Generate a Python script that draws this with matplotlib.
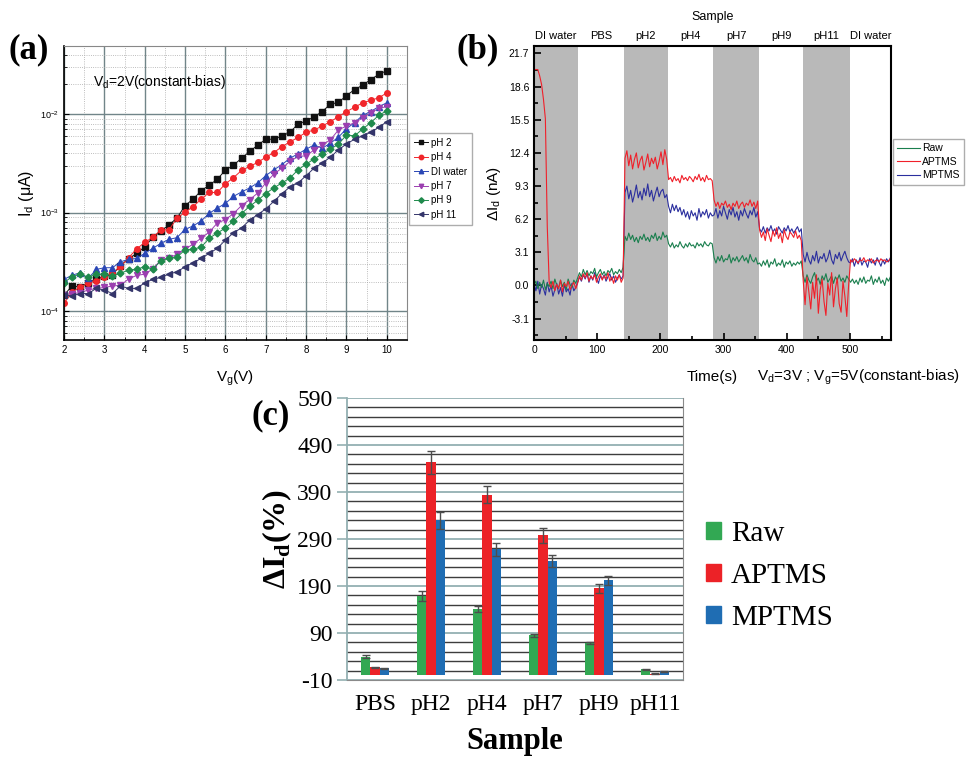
import numpy as np
import matplotlib.pyplot as plt
from matplotlib.ticker import LogLocator, MultipleLocator, FixedLocator, NullFormatter
from matplotlib.patches import Patch

plt.rcParams['font.family'] = 'Liberation Sans'
plt.rcParams['axes.unicode_minus'] = False
plt.rcParams['mathtext.fontset'] = 'custom'
plt.rcParams['mathtext.rm'] = 'Liberation Sans'
plt.rcParams['mathtext.it'] = 'Liberation Sans:italic'
plt.rcParams['mathtext.bf'] = 'Liberation Serif:bold'

# ---------------- (a) transfer curves, Vd = 2 V ----------------
vg = [2.0, 2.2, 2.4, 2.6, 2.8, 3.0, 3.2, 3.4, 3.6, 3.8,
      4.0, 4.2, 4.4, 4.6, 4.8, 5.0, 5.2, 5.4, 5.6, 5.8,
      6.0, 6.2, 6.4, 6.6, 6.8, 7.0, 7.2, 7.4, 7.6, 7.8,
      8.0, 8.2, 8.4, 8.6, 8.8, 9.0, 9.2, 9.4, 9.6, 9.8, 10.0]

id_ph2 = [1.45e-4, 1.81e-4, 1.75e-4, 1.95e-4, 2.10e-4, 2.25e-4, 2.35e-4, 2.90e-4, 3.40e-4, 3.85e-4,
          4.50e-4, 5.60e-4, 6.50e-4, 7.50e-4, 8.80e-4, 1.18e-3, 1.37e-3, 1.67e-3, 1.90e-3, 2.18e-3,
          2.70e-3, 3.03e-3, 3.56e-3, 4.17e-3, 4.83e-3, 5.55e-3, 5.55e-3, 6.00e-3, 6.53e-3, 7.92e-3,
          8.50e-3, 9.40e-3, 1.06e-2, 1.26e-2, 1.31e-2, 1.54e-2, 1.77e-2, 1.96e-2, 2.24e-2, 2.52e-2, 2.76e-2]
id_ph4 = [1.20e-4, 1.57e-4, 1.74e-4, 1.94e-4, 2.02e-4, 2.23e-4, 2.45e-4, 2.82e-4, 3.49e-4, 4.27e-4,
          4.99e-4, 5.61e-4, 6.67e-4, 6.67e-4, 8.76e-4, 1.01e-3, 1.15e-3, 1.37e-3, 1.60e-3, 1.60e-3,
          1.96e-3, 2.26e-3, 2.68e-3, 2.94e-3, 3.23e-3, 3.65e-3, 4.06e-3, 4.67e-3, 5.21e-3, 5.80e-3,
          6.53e-3, 6.89e-3, 7.56e-3, 8.37e-3, 9.40e-3, 1.06e-2, 1.17e-2, 1.30e-2, 1.38e-2, 1.46e-2, 1.64e-2]
id_di = [2.10e-4, 2.32e-4, 2.45e-4, 2.15e-4, 2.65e-4, 2.76e-4, 2.76e-4, 3.17e-4, 3.35e-4, 3.43e-4,
         3.86e-4, 4.34e-4, 4.88e-4, 5.35e-4, 5.57e-4, 6.77e-4, 7.32e-4, 8.23e-4, 9.84e-4, 1.11e-3,
         1.24e-3, 1.46e-3, 1.62e-3, 1.78e-3, 2.00e-3, 2.37e-3, 2.72e-3, 3.06e-3, 3.57e-3, 3.94e-3,
         4.40e-3, 4.86e-3, 4.50e-3, 5.06e-3, 5.81e-3, 7.11e-3, 8.17e-3, 9.70e-3, 1.06e-2, 1.19e-2, 1.30e-2]
id_ph7 = [1.46e-4, 1.51e-4, 1.54e-4, 1.64e-4, 1.70e-4, 1.74e-4, 1.80e-4, 1.83e-4, 2.12e-4, 2.31e-4,
          2.37e-4, 2.68e-4, 3.31e-4, 3.45e-4, 3.79e-4, 4.26e-4, 4.79e-4, 5.51e-4, 6.35e-4, 7.85e-4,
          8.49e-4, 9.77e-4, 1.18e-3, 1.35e-3, 1.58e-3, 2.00e-3, 2.46e-3, 2.83e-3, 3.30e-3, 3.71e-3,
          3.77e-3, 4.33e-3, 4.86e-3, 5.46e-3, 6.89e-3, 7.56e-3, 8.17e-3, 9.11e-3, 1.03e-2, 1.14e-2, 1.19e-2]
id_ph9 = [1.95e-4, 2.24e-4, 2.37e-4, 2.21e-4, 2.37e-4, 2.37e-4, 2.28e-4, 2.42e-4, 2.62e-4, 2.66e-4,
          2.83e-4, 2.66e-4, 3.24e-4, 3.45e-4, 3.53e-4, 4.19e-4, 4.26e-4, 4.46e-4, 5.51e-4, 6.20e-4,
          6.98e-4, 8.17e-4, 9.77e-4, 1.16e-3, 1.33e-3, 1.56e-3, 1.78e-3, 2.00e-3, 2.24e-3, 2.72e-3,
          3.10e-3, 3.51e-3, 3.94e-3, 4.40e-3, 4.94e-3, 6.14e-3, 6.00e-3, 7.05e-3, 8.17e-3, 9.70e-3, 1.08e-2]
id_ph11 = [1.46e-4, 1.43e-4, 1.51e-4, 1.51e-4, 1.70e-4, 1.64e-4, 1.51e-4, 1.80e-4, 1.70e-4, 1.70e-4,
           1.94e-4, 2.10e-4, 2.20e-4, 2.38e-4, 2.51e-4, 2.82e-4, 3.10e-4, 3.43e-4, 3.86e-4, 4.34e-4,
           5.27e-4, 6.24e-4, 7.00e-4, 8.37e-4, 9.55e-4, 1.09e-3, 1.30e-3, 1.56e-3, 1.82e-3, 2.00e-3,
           2.37e-3, 2.83e-3, 3.18e-3, 3.65e-3, 4.33e-3, 4.97e-3, 5.55e-3, 6.00e-3, 6.53e-3, 7.33e-3, 8.37e-3]

curves_a = [
    ('pH 2', id_ph2, 's', '#111111'),
    ('pH 4', id_ph4, 'o', '#f0262b'),
    ('DI water', id_di, '^', '#2a47b5'),
    ('pH 7', id_ph7, 'v', '#9b3fb0'),
    ('pH 9', id_ph9, 'D', '#1f8a4c'),
    ('pH 11', id_ph11, '<', '#34356a'),
]

# ---------------- (b) real-time response ----------------
time_s = np.arange(0, 565, 3)
segment_edges = [0, 70, 142, 212, 284, 356, 426, 500, 565]
segment_names = ['DI water', 'PBS', 'pH2', 'pH4', 'pH7', 'pH9', 'pH11', 'DI water']
shaded = [(0, 70), (142, 212), (284, 356), (426, 500)]

raw_na = ([0.0, 0.4, -0.3, 0.3, -0.2, 0.5, -0.4, 0.2, -0.1, 0.4, -0.3, 0.6,
           0.0, -0.2, 0.5, -0.1, 0.3, -0.4, 0.6, 0.1, -0.2, 0.5, 0.2, 0.7]
          + [1.2, 0.8, 1.5, 1.0, 1.4, 0.9, 1.3, 1.1, 1.6, 0.8, 1.2, 1.5,
             1.0, 1.3, 0.9, 1.4, 1.2, 1.6, 1.0, 1.3, 1.1, 1.5, 1.2, 1.7]
          + [4.6, 4.2, 4.9, 4.3, 4.7, 4.1, 4.5, 4.0, 4.6, 4.3, 4.8, 4.2,
             4.5, 4.1, 4.7, 4.4, 4.9, 4.2, 4.6, 4.3, 5.0, 4.5, 4.7]
          + [3.9, 3.6, 4.0, 3.5, 3.8, 3.6, 4.1, 3.7, 3.5, 3.9, 3.6, 4.0,
             3.7, 3.8, 3.5, 4.0, 3.7, 3.9, 3.6, 4.1, 3.8, 3.7, 4.0, 3.9]
          + [2.6, 2.1, 2.7, 2.3, 2.8, 2.2, 2.5, 2.4, 2.9, 2.1, 2.6, 2.3,
             2.7, 2.2, 2.5, 2.8, 2.3, 2.6, 2.1, 2.9, 2.4, 2.2, 2.6, 2.0]
          + [2.1, 1.8, 2.3, 1.9, 2.4, 1.7, 2.2, 2.0, 2.5, 1.8, 2.1, 1.9,
             2.4, 1.7, 2.2, 2.0, 2.3, 1.8, 2.1, 1.9, 2.2, 2.0, 2.3]
          + [0.9, 0.3, 1.0, 0.5, 0.2, 0.8, 1.2, 0.4, 0.7, 0.1, 0.9, 0.5,
             1.1, 0.3, 0.6, 0.9, 0.2, 0.8, 0.5, 1.0, 0.4, 0.7, 0.3, 0.9, 0.6]
          + [0.3, 0.6, 0.2, 0.5, 0.1, 0.7, 0.3, 0.8, 0.2, 0.5, 0.4,
             0.9, 0.1, 0.6, 0.3, 0.8, 0.2, 0.5, 0.0, 0.7, 0.4, 0.8])
aptms_na = ([20.2, 20.2, 20.2, 19.6, 18.8, 17.4, 15.6, 5.5, 0.3, -0.2, 0.4, -0.5,
             0.1, -0.3, 0.5, -0.6, 0.2, -0.1, 0.4, -0.4, 0.0, 0.3, -0.3, 0.2]
            + [0.9, 0.5, 1.1, 0.7, 1.2, 0.4, 0.9, 0.6, 1.0, 0.3, 0.8, 1.1,
               0.5, 0.9, 0.6, 1.2, 0.4, 0.8, 0.2, 0.9, 0.5, 1.0, 0.3, 0.7]
            + [11.9, 12.6, 11.2, 12.2, 10.9, 11.8, 12.4, 11.0, 11.7, 12.1, 10.8, 11.5,
               12.3, 11.1, 11.9, 11.4, 12.0, 10.9, 11.6, 12.5, 11.3, 12.7, 11.8]
            + [9.9, 10.1, 9.7, 10.2, 9.8, 10.0, 9.6, 10.3, 9.9, 10.1, 9.8, 10.2,
               10.0, 9.7, 10.2, 9.9, 10.4, 9.8, 10.1, 9.7, 10.3, 9.9, 10.0, 9.8]
            + [8.0, 7.4, 7.8, 7.2, 7.7, 7.5, 7.9, 7.3, 7.6, 7.1, 7.7, 7.4,
               7.9, 7.2, 7.6, 7.8, 7.3, 7.7, 7.5, 8.0, 7.4, 7.8, 7.2, 7.9]
            + [5.2, 4.5, 5.0, 4.2, 5.3, 4.7, 4.1, 5.1, 4.6, 5.4, 4.4, 4.9,
               4.0, 5.2, 4.6, 4.3, 5.0, 4.8, 4.5, 5.1, 4.4, 4.7, 4.2]
            + [0.5, -1.8, 0.8, -0.6, -2.2, 0.3, -1.2, 1.0, -2.6, -0.4, 0.6, -1.5,
               -2.8, 0.2, -0.9, 1.2, -2.0, -0.3, 0.7, -1.7, -2.5, 0.4, -1.0, -2.9, 0.1]
            + [2.4, 2.2, 2.5, 2.3, 2.1, 2.4, 2.3, 2.6, 2.2, 2.4, 2.3,
               2.5, 2.1, 2.3, 2.4, 2.2, 2.5, 2.3, 2.4, 2.2, 2.3, 2.5])
mptms_na = ([0.2, -0.5, 0.4, -0.8, 0.1, -0.3, -0.9, 0.3, -0.6, 0.0, -1.0, -0.4,
             0.2, -0.8, -0.2, -1.0, 0.1, -0.6, -0.3, -0.9, 0.2, -0.5, -0.2, 0.3]
            + [0.8, 0.4, 1.0, 0.6, 1.1, 0.3, 0.9, 0.5, 1.2, 0.7, 0.2, 0.9,
               0.6, 1.0, 0.4, 0.8, 1.1, 0.5, 0.9, 0.3, 0.7, 1.0, 0.6, 0.9]
            + [8.7, 9.3, 8.1, 8.9, 7.8, 8.5, 9.4, 8.2, 8.8, 8.0, 9.1, 8.4,
               9.5, 8.3, 8.9, 7.9, 8.6, 9.2, 8.3, 8.8, 9.0, 8.2, 8.5]
            + [7.4, 6.8, 7.6, 7.0, 7.5, 6.9, 7.3, 6.6, 7.1, 6.4, 6.9, 6.2,
               7.0, 6.5, 6.8, 6.1, 7.2, 6.4, 6.9, 6.6, 7.1, 6.3, 6.8, 6.5]
            + [6.6, 7.2, 6.3, 7.0, 6.5, 7.4, 6.8, 6.2, 7.1, 6.6, 7.3, 6.4,
               6.9, 6.1, 7.0, 6.5, 7.2, 6.7, 6.3, 7.0, 6.6, 7.3, 6.4, 6.9]
            + [5.3, 5.0, 5.5, 4.9, 5.4, 5.1, 5.6, 5.0, 5.3, 4.8, 5.5, 5.2,
               4.9, 5.4, 5.1, 5.6, 5.0, 5.3, 4.9, 5.2, 5.5, 5.0, 5.3]
            + [2.9, 2.2, 3.1, 2.4, 2.0, 2.8, 2.3, 3.2, 2.1, 2.7, 2.5, 3.0,
               2.2, 2.6, 3.3, 2.4, 2.0, 2.9, 2.5, 3.1, 2.3, 2.8, 3.2, 2.6, 2.2]
            + [2.1, 2.5, 1.8, 2.4, 2.0, 2.6, 1.9, 2.3, 2.2, 1.7, 2.5,
               2.1, 2.4, 1.9, 2.6, 2.2, 1.8, 2.4, 2.0, 2.5, 2.2, 2.6])

# ---------------- (c) relative current change ----------------
samples = ['PBS', 'pH2', 'pH4', 'pH7', 'pH9', 'pH11']
raw_pct = [40, 169, 141, 85, 69, 13]
raw_err = [3, 11, 6, 3, 2, 1]
aptms_pct = [17, 453, 384, 298, 185, 3]
aptms_err = [1, 24, 18, 16, 10, 1]
mptms_pct = [15, 330, 268, 244, 202, 9]
mptms_err = [1, 18, 14, 13, 10, 1]

W, H = 966, 757


def rect(left, top, right, bottom):
    return [left / W, 1 - bottom / H, (right - left) / W, (bottom - top) / H]


fig = plt.figure(figsize=(W / 100, H / 100), dpi=100)
serif = 'Liberation Serif'

# ---- panel (a)
ax_a = fig.add_axes(rect(64, 46, 407, 340))
ax_a.set_yscale('log')
for name, vals, mk, col in curves_a:
    ax_a.plot(vg, vals, marker=mk, ms=4 if mk != 'D' else 3.5, color=col,
              lw=0.7, label=name)
ax_a.set_xlim(2, 10.5)
ax_a.set_ylim(5.1e-5, 4.9e-2)
ax_a.xaxis.set_major_locator(MultipleLocator(1))
ax_a.xaxis.set_minor_locator(MultipleLocator(0.5))
ax_a.yaxis.set_major_locator(LogLocator(base=10))
ax_a.yaxis.set_minor_locator(LogLocator(base=10, subs=np.arange(2, 10)))
ax_a.yaxis.set_minor_formatter(NullFormatter())
ax_a.set_axisbelow(True)
ax_a.grid(which='major', color='#718589', lw=1.0)
ax_a.grid(which='minor', color='#a8a8a8', lw=0.6, ls=':')
ax_a.tick_params(which='both', direction='in', labelsize=7)
ax_a.tick_params(axis='y', labelsize=6.5)
for s in ['top', 'right']:
    ax_a.spines[s].set_color('#888888')
for s in ['left', 'bottom']:
    ax_a.spines[s].set_linewidth(1.2)
ax_a.set_xlabel('V$_\\mathrm{g}$(V)', fontsize=11, labelpad=10)
ax_a.set_ylabel('I$_\\mathrm{d}$ (μA)', fontsize=11.5, labelpad=3)
ax_a.text(0.085, 0.865, 'V$_\\mathrm{d}$=2V(constant-bias)', transform=ax_a.transAxes,
          fontsize=10)
ax_a.legend(loc='upper left', bbox_to_anchor=(409 / W, 1 - 133 / H),
            bbox_transform=fig.transFigure, borderaxespad=0, fontsize=7,
            frameon=True, fancybox=False, edgecolor='#999999', handlelength=1.5,
            labelspacing=0.45, borderpad=0.5, handletextpad=0.3, markerscale=0.8)

# ---- panel (b)
ax_b = fig.add_axes(rect(534, 46, 891, 340))
for t0, t1 in shaded:
    ax_b.axvspan(t0, t1, color='#b9b9b9', lw=0)
ax_b.plot(time_s, mptms_na, color='#2b2f9e', lw=0.8, label='MPTMS')
ax_b.plot(time_s, raw_na, color='#1a7f4e', lw=0.8, label='Raw')
ax_b.plot(time_s, aptms_na, color='#f0202a', lw=0.8, label='APTMS')
ax_b.set_xlim(0, 565)
ax_b.set_ylim(-5.1, 22.4)
ax_b.set_yticks([-3.1, 0.0, 3.1, 6.2, 9.3, 12.4, 15.5, 18.6, 21.7])
ax_b.set_yticklabels(['-3.1', '0.0', '3.1', '6.2', '9.3', '12.4', '15.5', '18.6', '21.7'])
ax_b.yaxis.set_minor_locator(MultipleLocator(1.55))
ax_b.xaxis.set_major_locator(MultipleLocator(100))
ax_b.xaxis.set_minor_locator(MultipleLocator(50))
ax_b.tick_params(which='both', direction='in', labelsize=7.5, width=1.2)
ax_b.tick_params(which='major', length=5)
ax_b.tick_params(which='minor', length=3)
for s in ax_b.spines.values():
    s.set_linewidth(1.5)
ax_b.set_ylabel('ΔI$_\\mathrm{d}$ (nA)', fontsize=11, labelpad=4)
for k, name in enumerate(segment_names):
    mid = (segment_edges[k] + segment_edges[k + 1]) / 2
    ax_b.text(mid, 1.033, name, transform=ax_b.get_xaxis_transform(),
              ha='center', va='center', fontsize=8)
ax_b.text(0.5, 1.1, 'Sample', transform=ax_b.transAxes, ha='center',
          va='center', fontsize=9)
fig.text(712 / W, 1 - 377 / H, 'Time(s)', ha='center', va='center', fontsize=11)
fig.text(757 / W, 1 - 377 / H, 'V$_\\mathrm{d}$=3V ; V$_\\mathrm{g}$=5V(constant-bias)',
         ha='left', va='center', fontsize=11)
hb, lb = ax_b.get_legend_handles_labels()
order = [1, 2, 0]
ax_b.legend([hb[i] for i in order], [lb[i] for i in order], loc='upper left',
            bbox_to_anchor=(893 / W, 1 - 139 / H), bbox_transform=fig.transFigure,
            borderaxespad=0, fontsize=7.5, fancybox=False, edgecolor='#999999',
            handlelength=2.2, labelspacing=0.35, borderpad=0.4, handletextpad=0.2)

# ---- panel (c)
ax_c = fig.add_axes(rect(347, 398, 683, 680))
xc = np.arange(len(samples))
bw = 1 / 6
ekw = dict(ecolor='#4d4d4d', elinewidth=1, capsize=3, capthick=1)
ax_c.bar(xc - bw, raw_pct, bw, yerr=raw_err, color='#32a853', error_kw=ekw, label='Raw')
ax_c.bar(xc, aptms_pct, bw, yerr=aptms_err, color='#ec2227', error_kw=ekw, label='APTMS')
ax_c.bar(xc + bw, mptms_pct, bw, yerr=mptms_err, color='#1f6db3', error_kw=ekw, label='MPTMS')
ax_c.set_xlim(-0.5, 5.5)
ax_c.set_ylim(-10, 590)
ax_c.set_yticks(range(-10, 591, 100))
ax_c.yaxis.set_minor_locator(FixedLocator(range(10, 590, 20)))
ax_c.set_axisbelow(True)
ax_c.grid(axis='y', which='minor', color='#3d3d3d', lw=1.0)
ax_c.grid(axis='y', which='major', color='#93b0b2', lw=1.3)
ax_c.set_xticks(xc)
ax_c.set_xticklabels(samples)
ax_c.tick_params(axis='x', length=0, pad=10)
ax_c.tick_params(axis='y', which='major', length=7, color='#93b0b2', width=1.2)
ax_c.tick_params(axis='y', which='minor', length=0)
for lab in ax_c.get_xticklabels() + ax_c.get_yticklabels():
    lab.set_fontfamily(serif)
    lab.set_fontsize(17)
ax_c.spines['left'].set_color('#93b0b2')
ax_c.spines['left'].set_linewidth(1.3)
ax_c.spines['top'].set_visible(False)
ax_c.spines['right'].set_color('#8a8a8a')
ax_c.spines['bottom'].set_color('#8a8a8a')
ax_c.set_xlabel('Sample', fontfamily=serif, fontweight='bold', fontsize=22, labelpad=9)
ax_c.set_ylabel('ΔI$_\\mathbf{d}$(%)', fontfamily=serif, fontweight='bold',
                fontsize=23, labelpad=2)
ax_c.legend(handles=[Patch(color='#32a853', label='Raw'),
                     Patch(color='#ec2227', label='APTMS'),
                     Patch(color='#1f6db3', label='MPTMS')],
            loc='center left', bbox_to_anchor=(706 / W, 1 - 576 / H),
            bbox_transform=fig.transFigure, borderaxespad=0, borderpad=0,
            frameon=False, prop={'family': serif, 'size': 21}, handlelength=0.5,
            handleheight=0.5, handletextpad=0.35, labelspacing=0.55)

# panel tags
for tag, px, py in [('(a)', 29, 50), ('(b)', 478, 50), ('(c)', 271, 416)]:
    fig.text(px / W, 1 - py / H, tag, ha='center', va='center', fontsize=25,
             fontweight='bold', fontfamily=serif)

fig.savefig('out.png', dpi=100)
